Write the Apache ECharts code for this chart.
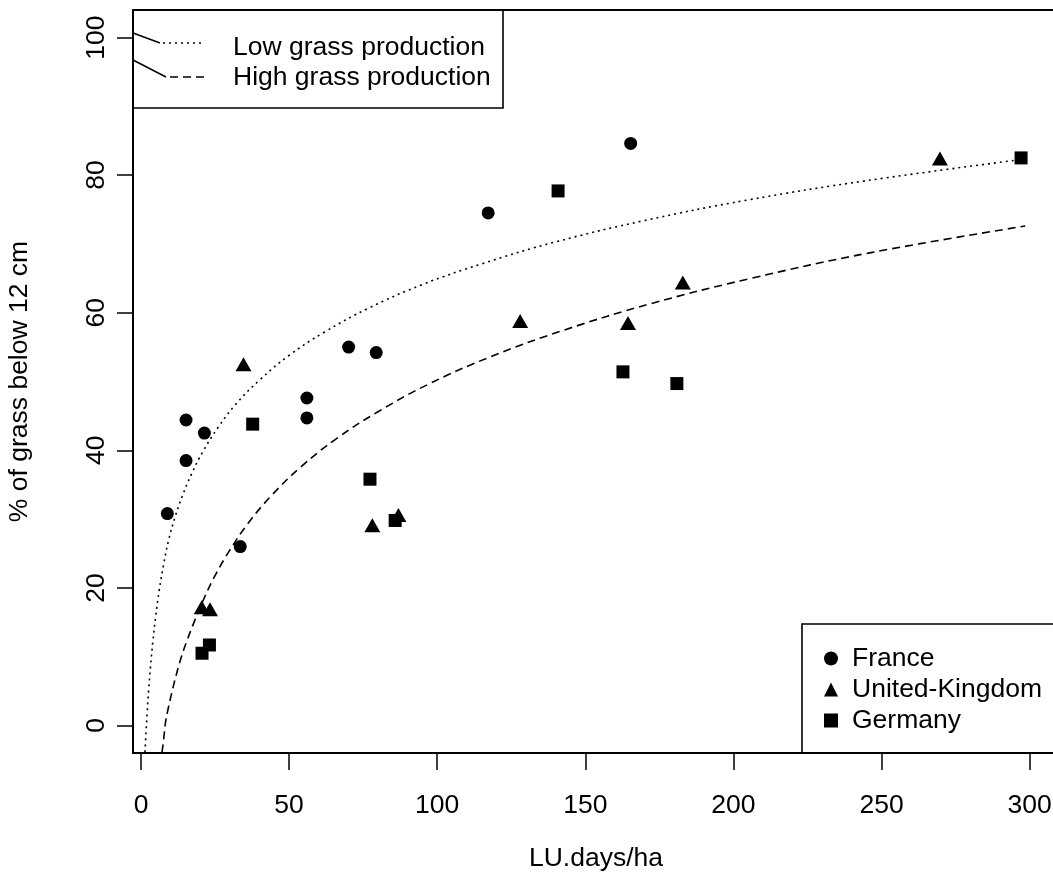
<!DOCTYPE html>
<html><head><meta charset="utf-8">
<script src="https://cdn.jsdelivr.net/npm/echarts@6/dist/echarts.min.js"></script>
<style>html,body{margin:0;padding:0;background:#fff}#c{width:1053px;height:886px}</style>
</head><body><div id="c"></div>
<script>
// ---- data ----
const franceX = [8.9, 15.2, 15.2, 21.4, 33.5, 56.0, 56.0, 70.1, 79.4, 117.2, 165.3];
const franceY = [30.8, 44.4, 38.5, 42.5, 26.0, 47.6, 44.7, 55.0, 54.2, 74.5, 84.6];
const ukX = [34.6, 20.5, 23.3, 78.1, 86.9, 128.0, 164.4, 182.9, 269.7];
const ukY = [52.5, 17.2, 16.9, 29.1, 30.6, 58.8, 58.5, 64.4, 82.4];
const germanyX = [37.7, 77.3, 85.8, 20.6, 23.1, 140.8, 162.7, 180.9, 297.1];
const germanyY = [43.8, 35.8, 29.8, 10.5, 11.7, 77.7, 51.4, 49.7, 82.5];
// fitted curves
const lowX = [1.35, 1.7, 2.1, 2.6, 3.2, 4, 5, 6.2, 7.6, 9.3, 11.5, 14, 17, 21, 26, 32, 40, 50, 62, 77, 95, 115, 140, 170, 205, 245, 296];
const lowY = [-3.9, -1.0, 2.0, 5.2, 8.5, 12.2, 16.0, 19.8, 23.3, 26.9, 30.3, 33.4, 36.5, 39.9, 43.3, 46.7, 50.2, 53.8, 57.2, 60.7, 64.1, 67.1, 70.3, 73.4, 76.4, 79.2, 82.2];
const highX = [7.1, 7.6, 8.3, 9.2, 10.3, 11.8, 13.5, 15.5, 18, 21, 25, 30, 36, 44, 54, 66, 80, 97, 118, 143, 172, 206, 246, 298.5];
const highY = [-3.9, -2.2, 0.5, 2.5, 4.6, 7.2, 9.8, 12.3, 15.1, 18.2, 21.8, 25.5, 29.3, 33.4, 37.6, 41.7, 45.6, 49.6, 53.6, 57.5, 61.3, 65.0, 68.7, 72.6];
const xTicks = [0, 50, 100, 150, 200, 250, 300];
const yTicks = [0, 20, 40, 60, 80, 100];
const seriesNames = ['France', 'United-Kingdom', 'Germany'];
const curveNames = ['Low grass production', 'High grass production'];

const FONT = '"Liberation Sans", Arial, Helvetica, sans-serif';
const FS = 26.5;
const pair = (xs, ys) => xs.map((x, i) => [x, ys[i]]);
const chart = echarts.init(document.getElementById('c'), null, {renderer: 'canvas'});
const tickStyle = {color: '#000', width: 1.5};
const txt = {fontSize: FS, color: '#000', fontFamily: FONT};
chart.setOption({
  animation: false,
  backgroundColor: '#fff',
  grid: {left: 133, top: 10, width: 926, height: 743, show: true, borderColor: '#000', borderWidth: 2,
    backgroundColor: 'transparent', containLabel: false, outerBoundsMode: 'none'},
  xAxis: {
    type: 'value', min: -2.7, max: 309.9,
    splitLine: {show: false},
    axisLine: {show: false, onZero: false},
    axisTick: {show: true, customValues: xTicks, length: 17, lineStyle: tickStyle},
    axisLabel: Object.assign({customValues: xTicks, margin: 39}, txt),
    name: 'LU.days/ha', nameLocation: 'middle', nameGap: 92,
    nameTextStyle: txt
  },
  yAxis: {
    type: 'value', min: -4, max: 104,
    splitLine: {show: false},
    axisLine: {show: false, onZero: false},
    axisTick: {show: true, customValues: yTicks, length: 16, lineStyle: tickStyle},
    axisLabel: Object.assign({customValues: yTicks, margin: 23, rotate: 90}, txt),
    name: '% of grass below 12 cm', nameLocation: 'middle', nameGap: 100,
    nameTextStyle: txt
  },
  legend: {
    data: seriesNames, orient: 'vertical', left: 819, top: 640,
    itemWidth: 14, itemHeight: 14, itemGap: 4,
    itemStyle: {opacity: 1},
    textStyle: Object.assign({padding: [0, 0, 0, 9]}, txt),
    inactiveColor: '#000'
  },
  graphic: [
    {type: 'rect', shape: {x: 133, y: 10, width: 370, height: 98}, style: {fill: 'none', stroke: '#000', lineWidth: 1.6}, silent: true},
    {type: 'polyline', shape: {points: [[133, 33], [160, 43]]}, style: {stroke: '#000', lineWidth: 1.5, fill: 'none'}},
    {type: 'polyline', shape: {points: [[133, 60], [166, 77]]}, style: {stroke: '#000', lineWidth: 1.5, fill: 'none'}},
    {type: 'line', shape: {x1: 163, y1: 43, x2: 203, y2: 43}, style: {stroke: '#000', lineWidth: 1.6, lineDash: [2, 4]}},
    {type: 'line', shape: {x1: 170, y1: 77, x2: 208, y2: 77}, style: {stroke: '#000', lineWidth: 1.6, lineDash: [8, 5]}},
    {type: 'text', x: 233, y: 48, style: {text: curveNames[0], font: FS + 'px "Liberation Sans", Arial, sans-serif', fill: '#000', verticalAlign: 'middle'}},
    {type: 'text', x: 233, y: 78, style: {text: curveNames[1], font: FS + 'px "Liberation Sans", Arial, sans-serif', fill: '#000', verticalAlign: 'middle'}},
    {type: 'rect', shape: {x: 802, y: 624, width: 300, height: 129}, style: {fill: 'none', stroke: '#000', lineWidth: 1.6}, silent: true}
  ],
  series: [
    {name: curveNames[0], type: 'line', data: pair(lowX, lowY), showSymbol: false, smooth: 0.4,
      lineStyle: {color: '#000', width: 1.6, type: [2, 4]}, itemStyle: {color: '#000'}},
    {name: curveNames[1], type: 'line', data: pair(highX, highY), showSymbol: false, smooth: 0.4,
      lineStyle: {color: '#000', width: 1.6, type: [8, 5]}, itemStyle: {color: '#000'}},
    {name: seriesNames[0], type: 'scatter', symbol: 'circle', symbolSize: 13, data: pair(franceX, franceY), itemStyle: {color: '#000', opacity: 1}},
    {name: seriesNames[1], type: 'scatter', symbol: 'triangle', symbolSize: [16, 14], data: pair(ukX, ukY), itemStyle: {color: '#000', opacity: 1}},
    {name: seriesNames[2], type: 'scatter', symbol: 'rect', symbolSize: 13, data: pair(germanyX, germanyY), itemStyle: {color: '#000', opacity: 1}}
  ]
});
</script></body></html>
